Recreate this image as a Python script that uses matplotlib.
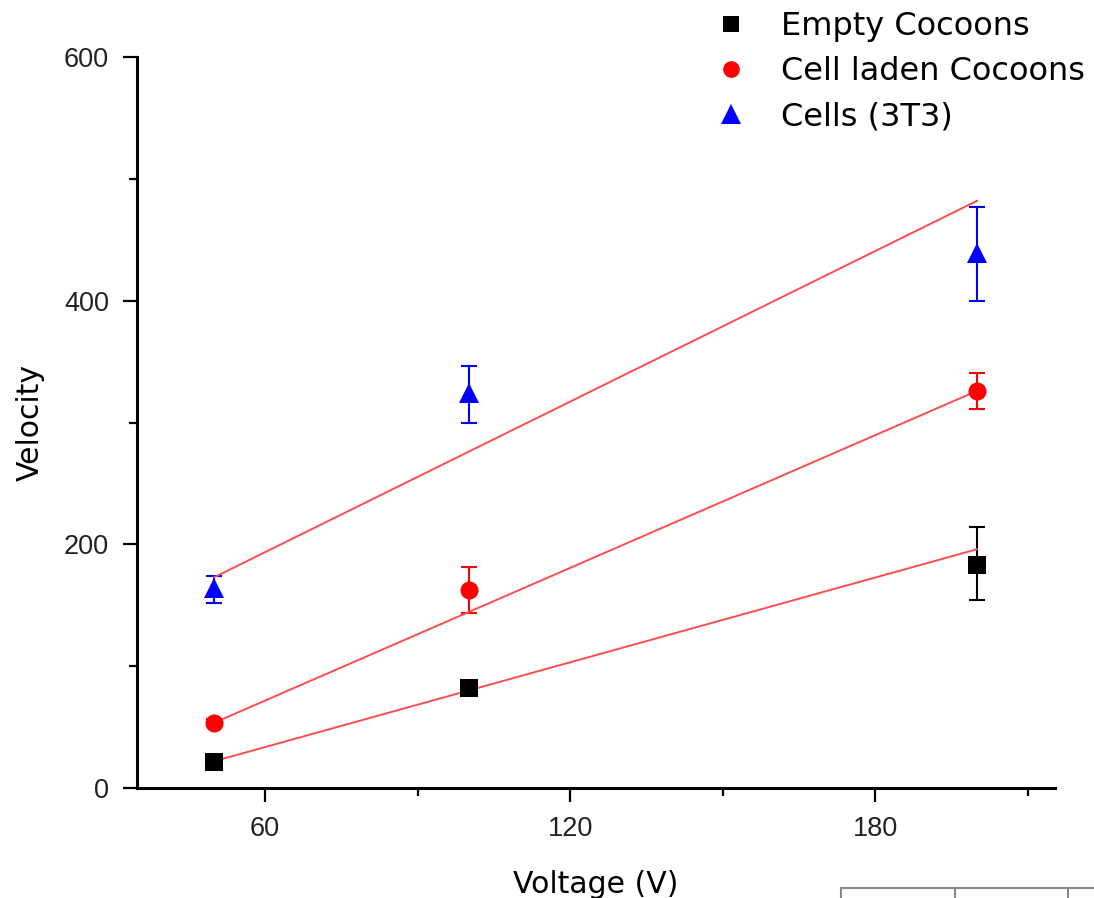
import numpy as np
import matplotlib
matplotlib.use("Agg")
import matplotlib.pyplot as plt
from matplotlib.lines import Line2D

voltage = [50, 100, 200]

series_names = ["Empty Cocoons", "Cell laden Cocoons", "Cells (3T3)"]
empty_vel = [21.5, 82, 183]
empty_lo = [3, 3, 29]
empty_hi = [3, 3, 31]
laden_vel = [53.5, 162.5, 326]
laden_lo = [3, 18.5, 15]
laden_hi = [3, 18.5, 15]
cells_vel = [164, 324, 439]
cells_lo = [12, 24, 39]
cells_hi = [10, 22, 38]

# fitted lines (slope, intercept)
fit_slope = [1.16, 1.816, 2.06]
fit_intercept = [-36.0, -37.2, 70.0]

x_ticks = [60, 120, 180]
y_ticks = [0, 200, 400, 600]

colors = ["black", "red", "blue"]
markers = ["s", "o", "^"]
msizes = [12.5, 13, 14.5]

fig = plt.figure(figsize=(10.94, 8.98), dpi=100)
ax = fig.add_axes([0.1252, 0.1225, 0.8391, 0.814])

vels = [empty_vel, laden_vel, cells_vel]
los = [empty_lo, laden_lo, cells_lo]
his = [empty_hi, laden_hi, cells_hi]

x = np.array(voltage, dtype=float)
for i in range(3):
    ax.errorbar(x, vels[i], yerr=[los[i], his[i]], fmt="none",
                ecolor=colors[i], elinewidth=1.5, capsize=6, capthick=1.5,
                zorder=2)
    xf = np.array([x[0], x[-1]])
    ax.plot(xf, fit_slope[i] * xf + fit_intercept[i], color="#ff4d4d",
            lw=1.4, zorder=3)
    ax.plot(x, vels[i], linestyle="none", marker=markers[i],
            markersize=msizes[i], color=colors[i], markeredgewidth=0,
            zorder=4)

ax.set_xlim(34.8, 215.3)
ax.set_ylim(0, 600)
tick_font = dict(fontfamily="Liberation Sans", color="#222222")
ax.set_xticks(x_ticks, labels=[str(v) for v in x_ticks], **tick_font)
ax.set_xticks([90, 150, 210], minor=True)
ax.set_yticks(y_ticks, labels=[str(v) for v in y_ticks], **tick_font)
ax.set_yticks([100, 300, 500], minor=True)

for side in ["top", "right"]:
    ax.spines[side].set_visible(False)
for side in ["left", "bottom"]:
    ax.spines[side].set_linewidth(2.2)

ax.tick_params(which="major", direction="out", length=10, width=1.6,
               labelsize=19.5, pad=10)
ax.tick_params(which="minor", direction="out", length=5.5, width=1.6)

ax.set_xlabel("Voltage (V)", fontsize=21.5, labelpad=20)
ax.set_ylabel("Velocity", fontsize=21.5, labelpad=14)

handles = [Line2D([], [], linestyle="none", marker=markers[i],
                  markersize=[12, 12, 14][i], color=colors[i],
                  markeredgewidth=0) for i in range(3)]
fig.legend(handles, series_names, loc="upper left",
           bbox_to_anchor=(0.654, 0.988), frameon=False, fontsize=23,
           handlelength=1.0, handletextpad=1.05, labelspacing=0.45,
           borderpad=0, borderaxespad=0)

# cut-off table frame at the bottom edge
gray = "#888888"
fig.add_artist(Line2D([841 / 1094, 1.0], [1 - 888 / 898] * 2, color=gray,
                      lw=1.5, transform=fig.transFigure))
for px in [841, 955, 1068]:
    fig.add_artist(Line2D([px / 1094] * 2, [0, 1 - 888 / 898], color=gray,
                          lw=1.5, transform=fig.transFigure))

fig.savefig("out.png", dpi=100)
